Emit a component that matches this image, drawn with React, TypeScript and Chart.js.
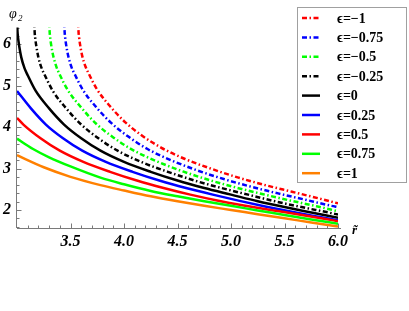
import React, { useEffect, useRef } from "react";
import { Chart, registerables } from "chart.js";

Chart.register(...registerables);

// ---- data ----
const legendLabels = ["ϵ=−1", "ϵ=−0.75", "ϵ=−0.5", "ϵ=−0.25", "ϵ=0", "ϵ=0.25", "ϵ=0.5", "ϵ=0.75", "ϵ=1"];
const seriesColors = ["#ff0000", "#0000ff", "#00ff00", "#000000", "#000000", "#0000ff", "#ff0000", "#00ff00", "#ff8000"];
const seriesDashed = [true, true, true, true, false, false, false, false, false];

const rM1 = [3.57, 3.575, 3.58, 3.59, 3.61, 3.64, 3.67, 3.745, 3.87, 4.01, 4.17, 4.35, 4.57, 4.82, 5.07, 5.32, 5.57, 5.82, 6.0];
const phiM1 = [6.62, 6.3, 6.17, 5.98, 5.71, 5.46, 5.29, 4.92, 4.5, 4.12, 3.79, 3.5, 3.23, 2.99, 2.78, 2.6, 2.44, 2.28, 2.16];

const rM075 = [3.44, 3.445, 3.45, 3.46, 3.48, 3.51, 3.54, 3.615, 3.74, 3.88, 4.04, 4.22, 4.44, 4.69, 4.94, 5.19, 5.44, 5.69, 5.94, 6.0];
const phiM075 = [6.62, 6.3, 6.16, 5.97, 5.7, 5.44, 5.27, 4.9, 4.48, 4.1, 3.77, 3.47, 3.2, 2.95, 2.74, 2.56, 2.4, 2.25, 2.1, 2.07];

const rM05 = [3.3, 3.305, 3.31, 3.32, 3.34, 3.37, 3.4, 3.475, 3.6, 3.74, 3.9, 4.08, 4.3, 4.55, 4.8, 5.05, 5.3, 5.55, 5.8, 6.0];
const phiM05 = [6.62, 6.3, 6.16, 5.97, 5.7, 5.44, 5.26, 4.89, 4.47, 4.08, 3.75, 3.45, 3.18, 2.93, 2.72, 2.54, 2.38, 2.23, 2.09, 1.97];

const rM025 = [3.16, 3.165, 3.17, 3.18, 3.2, 3.23, 3.26, 3.335, 3.46, 3.6, 3.76, 3.94, 4.16, 4.41, 4.66, 4.91, 5.16, 5.41, 5.66, 5.91, 6.0];
const phiM025 = [6.62, 6.29, 6.15, 5.96, 5.68, 5.42, 5.25, 4.87, 4.45, 4.06, 3.73, 3.43, 3.16, 2.92, 2.71, 2.53, 2.37, 2.21, 2.07, 1.94, 1.89];

const r0 = [3.0, 3.005, 3.01, 3.02, 3.04, 3.07, 3.1, 3.175, 3.3, 3.44, 3.6, 3.78, 4.0, 4.25, 4.5, 4.75, 5.0, 5.25, 5.5, 5.75, 6.0];
const phi0 = [6.62, 6.29, 6.15, 5.96, 5.68, 5.42, 5.25, 4.87, 4.45, 4.06, 3.73, 3.43, 3.16, 2.92, 2.71, 2.53, 2.37, 2.21, 2.07, 1.94, 1.81];

const rP025 = [3.0, 3.13, 3.27, 3.43, 3.61, 3.83, 4.08, 4.33, 4.58, 4.83, 5.08, 5.33, 5.58, 5.83, 6.0];
const phiP025 = [4.87, 4.45, 4.06, 3.73, 3.43, 3.16, 2.92, 2.71, 2.53, 2.37, 2.22, 2.08, 1.95, 1.83, 1.75];

const rP05 = [3.0, 3.06, 3.22, 3.4, 3.62, 3.87, 4.12, 4.37, 4.62, 4.87, 5.12, 5.37, 5.62, 5.87, 6.0];
const phiP05 = [4.22, 4.06, 3.73, 3.43, 3.16, 2.92, 2.71, 2.53, 2.37, 2.23, 2.11, 2.0, 1.9, 1.79, 1.73];

const rP075 = [3.0, 3.15, 3.3, 3.5, 3.78, 4.0, 4.25, 4.5, 4.75, 5.0, 5.25, 5.5, 5.75, 6.0];
const phiP075 = [3.72, 3.47, 3.27, 3.05, 2.78, 2.62, 2.46, 2.33, 2.21, 2.1, 1.99, 1.88, 1.77, 1.67];

const rP1 = [3.0, 3.25, 3.5, 3.78, 4.0, 4.25, 4.5, 4.75, 5.0, 5.25, 5.5, 5.75, 6.0];
const phiP1 = [3.32, 3.03, 2.8, 2.6, 2.47, 2.33, 2.21, 2.1, 2.0, 1.9, 1.8, 1.7, 1.6];

const seriesR = [rM1, rM075, rM05, rM025, r0, rP025, rP05, rP075, rP1];
const seriesPhi = [phiM1, phiM075, phiM05, phiM025, phi0, phiP025, phiP05, phiP075, phiP1];

const xTickValues = [3.5, 4.0, 4.5, 5.0, 5.5, 6.0];
const xTickLabels = ["3.5", "4.0", "4.5", "5.0", "5.5", "6.0"];
const yTickValues = [2, 3, 4, 5, 6];
const yTickLabels = ["2", "3", "4", "5", "6"];

const X_MIN = 3.0;
const X_MAX = 6.0;
const Y_MIN = 1.566;
const Y_MAX = 6.4;

const DASH = [5, 2.5, 1.5, 2.5];
const SERIF = "'Liberation Serif', 'Times New Roman', serif";

const mmaPlugin = {
  id: "mmaDecor",
  beforeDatasetsDraw(chart: any) {
    const { ctx } = chart;
    const xs = chart.scales.x;
    const ys = chart.scales.y;
    const left = xs.getPixelForValue(X_MIN);
    const right = xs.getPixelForValue(X_MAX);
    const bottom = ys.getPixelForValue(Y_MIN);
    const top = ys.getPixelForValue(Y_MAX);
    ctx.save();
    ctx.strokeStyle = "#7a7a7a";
    ctx.lineWidth = 1;
    // axes
    ctx.beginPath();
    ctx.moveTo(left, bottom + 0.5);
    ctx.lineTo(right + 3, bottom + 0.5);
    ctx.moveTo(left - 0.5, bottom);
    ctx.lineTo(left - 0.5, top);
    ctx.stroke();
    // x ticks
    ctx.beginPath();
    for (let i = 31; i <= 60; i++) {
      const v = i / 10;
      const px = Math.round(xs.getPixelForValue(v)) + 0.5;
      const major = i % 5 === 0;
      ctx.moveTo(px, bottom);
      ctx.lineTo(px, bottom - (major ? 4.5 : 2.5));
    }
    // y ticks
    for (let i = 8; i <= 32; i++) {
      const v = i / 5;
      if (v < Y_MIN || v > Y_MAX) continue;
      const py = Math.round(ys.getPixelForValue(v)) + 0.5;
      const major = i % 5 === 0;
      ctx.moveTo(left, py);
      ctx.lineTo(left + (major ? 4.5 : 2.5), py);
    }
    ctx.stroke();
    // tick labels
    ctx.fillStyle = "#000";
    ctx.font = `bold italic 16px ${SERIF}`;
    ctx.textAlign = "center";
    ctx.textBaseline = "middle";
    xTickValues.forEach((v, i) => {
      ctx.fillText(xTickLabels[i], xs.getPixelForValue(v), bottom + 14);
    });
    yTickValues.forEach((v, i) => {
      ctx.fillText(yTickLabels[i], 7, ys.getPixelForValue(v));
    });
    // axis titles
    ctx.font = `italic 14px ${SERIF}`;
    ctx.textAlign = "left";
    ctx.textBaseline = "alphabetic";
    ctx.fillText("φ", 9, 18);
    ctx.font = `italic 9px ${SERIF}`;
    ctx.fillText("2", 18, 21);
    ctx.font = `bold italic 13px ${SERIF}`;
    ctx.fillText("r̃", 352, 234);
    ctx.restore();
  },
  afterDraw(chart: any) {
    const { ctx } = chart;
    ctx.save();
    const bx = 297.5, by = 7.5, bw = 109, bh = 175;
    ctx.fillStyle = "#fff";
    ctx.fillRect(bx, by, bw, bh);
    ctx.strokeStyle = "#a0a0a0";
    ctx.lineWidth = 1;
    ctx.strokeRect(bx, by, bw, bh);
    ctx.font = `bold 14px ${SERIF}`;
    ctx.textBaseline = "middle";
    ctx.textAlign = "left";
    legendLabels.forEach((lab, i) => {
      const yy = 18 + i * 19.4;
      ctx.beginPath();
      ctx.strokeStyle = seriesColors[i];
      ctx.lineWidth = 2.5;
      ctx.setLineDash(seriesDashed[i] ? DASH : []);
      ctx.moveTo(302, yy);
      ctx.lineTo(320, yy);
      ctx.stroke();
      ctx.setLineDash([]);
      ctx.fillStyle = "#000";
      ctx.fillText(lab, 337, yy + 1);
    });
    ctx.restore();
  },
};

export default function App() {
  const canvasRef = useRef<HTMLCanvasElement | null>(null);

  useEffect(() => {
    const canvas = canvasRef.current;
    if (!canvas) return;
    const datasets = seriesR.map((rs, k) => ({
      label: legendLabels[k],
      data: rs.map((r, i) => ({ x: r, y: seriesPhi[k][i] })),
      borderColor: seriesColors[k],
      backgroundColor: seriesColors[k],
      borderWidth: 2.5,
      borderDash: seriesDashed[k] ? DASH : [],
      pointRadius: 0,
      fill: false,
      cubicInterpolationMode: "monotone" as const,
    }));
    const chart = new Chart(canvas, {
      type: "line",
      data: { datasets: datasets.slice().reverse() },
      options: {
        responsive: false,
        animation: false,
        devicePixelRatio: 1,
        layout: { padding: { left: 17, right: 71, top: 27.5, bottom: 83 } },
        plugins: { legend: { display: false }, tooltip: { enabled: false } },
        scales: {
          x: { type: "linear", min: X_MIN, max: X_MAX, display: false },
          y: { type: "linear", min: Y_MIN, max: Y_MAX, display: false },
        },
      },
      plugins: [mmaPlugin],
    });
    return () => chart.destroy();
  }, []);

  return (
    <div style={{ position: "absolute", left: 0, top: 0, width: 409, height: 311, background: "#fff" }}>
      <canvas ref={canvasRef} width={409} height={311} />
    </div>
  );
}
